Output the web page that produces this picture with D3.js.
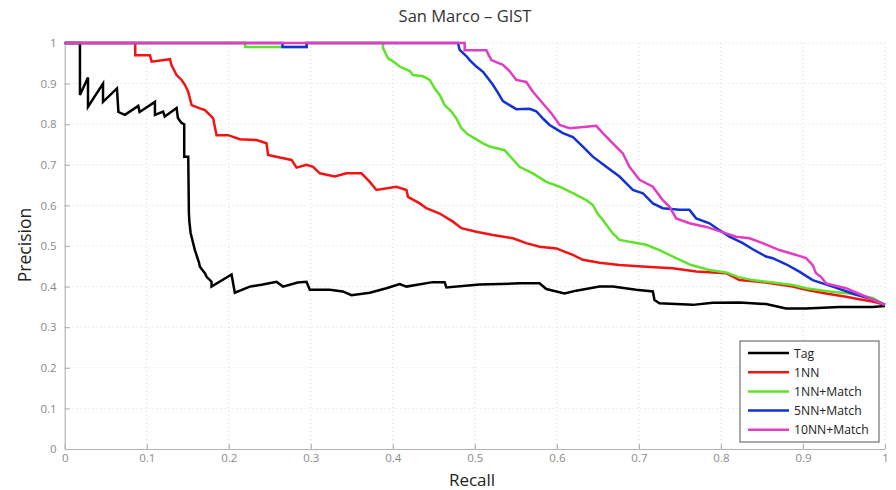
<!DOCTYPE html>
<html>
<head>
<meta charset="utf-8">
<script src="https://cdn.jsdelivr.net/npm/d3@7"></script>
<style>
  html, body { margin: 0; padding: 0; background: #fff; }
  svg { display: block; font-family: "Open Sans", "DejaVu Sans", sans-serif; }
</style>
</head>
<body>
<svg id="chart" width="896" height="490"></svg>
<script>
// Precision–recall curves, each point is [recall, precision]
const tag = [
  [0,1],[0.0186,1],[0.0186,0.872],[0.0284,0.915],[0.0284,0.843],[0.0467,0.90],[0.0467,0.855],
  [0.0637,0.888],[0.0655,0.83],[0.0734,0.823],[0.0897,0.845],[0.0913,0.83],[0.110,0.855],[0.110,0.823],
  [0.120,0.831],[0.122,0.819],[0.1364,0.84],[0.138,0.815],[0.1425,0.803],[0.1457,0.80],[0.1457,0.72],
  [0.1506,0.72],[0.1514,0.581],[0.152,0.56],[0.1535,0.532],[0.1587,0.49],[0.1636,0.46],[0.1648,0.449],
  [0.1709,0.433],[0.173,0.424],[0.179,0.412],[0.179,0.40],[0.2034,0.43],[0.2074,0.385],[0.2257,0.40],
  [0.2415,0.405],[0.2582,0.412],[0.266,0.40],[0.284,0.41],[0.2948,0.412],[0.2988,0.392],[0.3231,0.392],
  [0.339,0.388],[0.3496,0.379],[0.3719,0.385],[0.3922,0.396],[0.4084,0.406],[0.4166,0.40],[0.4486,0.411],
  [0.4632,0.411],[0.4653,0.398],[0.5057,0.405],[0.5545,0.408],[0.5788,0.408],[0.5871,0.394],[0.6093,0.383],
  [0.6236,0.39],[0.6519,0.40],[0.6682,0.40],[0.6967,0.392],[0.717,0.388],[0.719,0.367],[0.725,0.359],
  [0.7657,0.355],[0.79,0.36],[0.8225,0.361],[0.855,0.357],[0.8794,0.346],[0.9038,0.346],[0.9444,0.35],
  [0.9849,0.35],[1.0,0.352]
];
const nn1 = [
  [0,1],[0.086,1],[0.086,0.97],[0.1039,0.97],[0.106,0.954],[0.1283,0.96],[0.1303,0.945],[0.1364,0.921],
  [0.1425,0.909],[0.1465,0.897],[0.1505,0.88],[0.1526,0.864],[0.1547,0.847],[0.1648,0.839],[0.1709,0.835],
  [0.179,0.819],[0.181,0.814],[0.1851,0.773],[0.1993,0.773],[0.2135,0.763],[0.2339,0.761],[0.246,0.753],
  [0.248,0.724],[0.2622,0.718],[0.2765,0.712],[0.2826,0.693],[0.2948,0.70],[0.3028,0.695],[0.311,0.679],
  [0.3292,0.671],[0.3435,0.679],[0.3618,0.679],[0.3719,0.658],[0.38,0.638],[0.4044,0.646],[0.4166,0.638],
  [0.4185,0.621],[0.4328,0.605],[0.4409,0.593],[0.4571,0.58],[0.4733,0.56],[0.4836,0.544],[0.5018,0.535],
  [0.522,0.527],[0.5464,0.519],[0.5627,0.507],[0.579,0.498],[0.5993,0.494],[0.6195,0.478],[0.6317,0.466],
  [0.652,0.459],[0.6763,0.453],[0.7089,0.449],[0.7413,0.445],[0.7698,0.437],[0.8063,0.433],[0.8225,0.416],
  [0.8469,0.412],[0.8875,0.40],[0.9038,0.392],[0.9281,0.383],[0.9525,0.375],[0.9687,0.369],[0.9849,0.363],
  [1.0,0.355]
];
const nn1Match = [
  [0,1],[0.22,1],[0.22,0.99],[0.295,0.99],[0.295,1],[0.388,1],[0.388,0.988],[0.3942,0.962],[0.4023,0.952],
  [0.4084,0.942],[0.4206,0.931],[0.4246,0.921],[0.4368,0.918],[0.445,0.909],[0.4511,0.888],[0.4572,0.872],
  [0.4632,0.847],[0.4714,0.831],[0.4775,0.814],[0.4836,0.79],[0.4913,0.775],[0.5099,0.753],[0.518,0.745],
  [0.5362,0.736],[0.5443,0.718],[0.5545,0.695],[0.5707,0.679],[0.5871,0.658],[0.6033,0.646],[0.6195,0.63],
  [0.6358,0.613],[0.6438,0.601],[0.6496,0.58],[0.656,0.564],[0.6682,0.531],[0.6763,0.515],[0.7089,0.503],
  [0.725,0.49],[0.7454,0.47],[0.7637,0.453],[0.786,0.441],[0.8063,0.435],[0.8205,0.424],[0.8388,0.416],
  [0.8631,0.41],[0.8875,0.404],[0.9038,0.396],[0.9322,0.388],[0.9565,0.383],[0.9849,0.372],[1.0,0.355]
];
const nn5Match = [
  [0,1],[0.2655,1],[0.2655,0.99],[0.295,0.99],[0.295,1],[0.4794,1],[0.4815,0.983],[0.4896,0.968],
  [0.4937,0.958],[0.5018,0.942],[0.5099,0.929],[0.516,0.913],[0.522,0.897],[0.5281,0.878],[0.5342,0.857],
  [0.5423,0.847],[0.5505,0.837],[0.5667,0.838],[0.5749,0.832],[0.583,0.814],[0.5911,0.798],[0.5993,0.788],
  [0.6073,0.778],[0.6195,0.768],[0.6317,0.745],[0.6438,0.72],[0.6602,0.695],[0.6763,0.671],[0.6926,0.638],
  [0.7048,0.63],[0.717,0.605],[0.7291,0.593],[0.7494,0.589],[0.7616,0.589],[0.7698,0.568],[0.786,0.556],
  [0.7982,0.539],[0.8104,0.523],[0.8266,0.507],[0.8388,0.492],[0.855,0.474],[0.8631,0.47],[0.8794,0.455],
  [0.8956,0.437],[0.9118,0.416],[0.9362,0.40],[0.9605,0.383],[0.9849,0.368],[1.0,0.355]
];
const nn10Match = [
  [0,1],[0.4876,1],[0.4876,0.982],[0.514,0.982],[0.5201,0.958],[0.5342,0.946],[0.5423,0.931],[0.5505,0.909],
  [0.5627,0.904],[0.5708,0.88],[0.583,0.851],[0.5932,0.827],[0.5993,0.81],[0.6033,0.798],[0.6155,0.79],
  [0.6358,0.794],[0.648,0.796],[0.656,0.778],[0.6682,0.753],[0.6804,0.728],[0.6885,0.695],[0.7007,0.663],
  [0.717,0.646],[0.7291,0.613],[0.7372,0.597],[0.7454,0.568],[0.7616,0.556],[0.782,0.547],[0.7941,0.539],
  [0.8063,0.531],[0.8185,0.523],[0.8347,0.519],[0.8509,0.507],[0.8712,0.49],[0.8916,0.478],[0.9038,0.47],
  [0.9118,0.453],[0.9159,0.433],[0.922,0.424],[0.9281,0.408],[0.9525,0.396],[0.9769,0.375],[1.0,0.355]
];

const seriesNames = ["Tag", "1NN", "1NN+Match", "5NN+Match", "10NN+Match"];
const seriesColors = ["#000000", "#f01414", "#5fe22a", "#1232d2", "#e23cc4"];
const seriesData = [tag, nn1, nn1Match, nn5Match, nn10Match];
const xTicks = [0, 0.1, 0.2, 0.3, 0.4, 0.5, 0.6, 0.7, 0.8, 0.9, 1];
const yTicks = [0, 0.1, 0.2, 0.3, 0.4, 0.5, 0.6, 0.7, 0.8, 0.9, 1];

const svg = d3.select("#chart");
const plot = { left: 64.7, right: 885, top: 43, bottom: 449 };

const x = d3.scaleLinear().domain([0, 1]).range([plot.left, plot.right]);
const y = d3.scaleLinear().domain([0, 1]).range([plot.bottom, plot.top]);

// dotted grid
const grid = svg.append("g");
grid.selectAll("line.gx").data(xTicks.slice(1)).join("line")
  .attr("x1", d => x(d)).attr("x2", d => x(d))
  .attr("y1", plot.top).attr("y2", plot.bottom)
  .attr("stroke", "#d8d8d8").attr("stroke-width", 1).attr("stroke-dasharray", "1,3");
grid.selectAll("line.gy").data(yTicks.slice(1)).join("line")
  .attr("x1", plot.left).attr("x2", plot.right)
  .attr("y1", d => y(d)).attr("y2", d => y(d))
  .attr("stroke", "#d8d8d8").attr("stroke-width", 1).attr("stroke-dasharray", "1,3");

// axes with inward ticks
const xAxis = d3.axisBottom(x).tickValues(xTicks).tickFormat(d3.format("")).tickSizeInner(-5).tickSizeOuter(0).tickPadding(5);
const yAxis = d3.axisLeft(y).tickValues(yTicks).tickFormat(d3.format("")).tickSizeInner(-5).tickSizeOuter(0).tickPadding(8);

const gx = svg.append("g").attr("transform", `translate(0,${plot.bottom})`).call(xAxis);
const gy = svg.append("g").attr("transform", `translate(${plot.left},0)`).call(yAxis);
[gx, gy].forEach(g => {
  g.select(".domain").attr("stroke", "#b4b4b4").attr("stroke-width", 1.2);
  g.selectAll(".tick line").attr("stroke", "#b4b4b4").attr("stroke-width", 1.2);
  g.selectAll(".tick text").attr("fill", "#8a8a8a").style("font-size", "11.5px")
    .style("font-family", "'Open Sans', 'DejaVu Sans', sans-serif");
});

// curves
const line = d3.line().x(d => x(d[0])).y(d => y(d[1]));
svg.append("g").selectAll("path").data(seriesData).join("path")
  .attr("d", d => line(d))
  .attr("fill", "none")
  .attr("stroke", (d, i) => seriesColors[i])
  .attr("stroke-width", 2.5)
  .attr("stroke-linejoin", "miter");

// title and axis labels
svg.append("text").attr("x", 465).attr("y", 22).attr("text-anchor", "middle")
  .attr("fill", "#333").style("font-size", "16.5px").text("San Marco – GIST");
svg.append("text").attr("x", 472).attr("y", 486).attr("text-anchor", "middle")
  .attr("fill", "#222").style("font-size", "17px").text("Recall");
svg.append("text").attr("transform", "translate(31,245) rotate(-90)").attr("text-anchor", "middle")
  .attr("fill", "#222").style("font-size", "17.5px").text("Precision");

// legend
const legend = svg.append("g");
legend.append("rect").attr("x", 740).attr("y", 341).attr("width", 139).attr("height", 101)
  .attr("fill", "#fff").attr("stroke", "#555").attr("stroke-width", 1);
const rows = legend.selectAll("g.row").data(seriesNames).join("g")
  .attr("transform", (d, i) => `translate(0,${353 + i * 19.2})`);
rows.append("line").attr("x1", 748).attr("x2", 789).attr("y1", 0).attr("y2", 0)
  .attr("stroke", (d, i) => seriesColors[i]).attr("stroke-width", 2.5);
rows.append("text").attr("x", 794).attr("y", 4.5).attr("fill", "#222")
  .style("font-size", "12.2px").text(d => d);
</script>
</body>
</html>
